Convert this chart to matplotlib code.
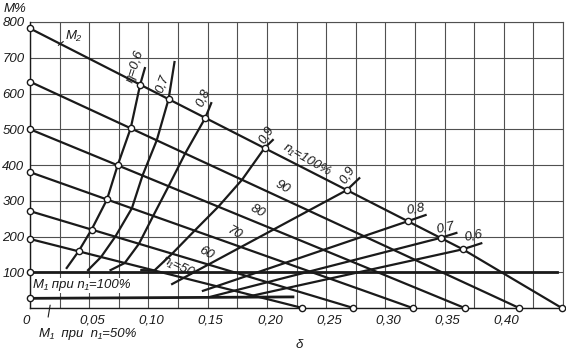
import matplotlib
matplotlib.use("Agg")
import matplotlib.pyplot as plt
import matplotlib.transforms as mtransforms
import numpy as np

# ---------------- data ----------------
n1_levels = [50, 60, 70, 80, 90, 100]
# each M2 line as polyline (delta, M)
m2_delta = [
    [0.0, 0.230],
    [0.0, 0.273],
    [0.0, 0.323],
    [0.0, 0.367],
    [0.0, 0.413],
    [0.0, 0.365, 0.449],
]
m2_M = [
    [193, 0],
    [271, 0],
    [380, 0],
    [500, 0],
    [633, 0],
    [782, 165, 0],
]

# upper efficiency curves: delta where each curve crosses the n1 = 50..100 lines
eta_upper = [0.6, 0.7, 0.8, 0.9]
eta_upper_delta = [
    [0.041, 0.052, 0.065, 0.074, 0.085, 0.093],
    [0.060, 0.072, 0.086, 0.095, 0.107, 0.117],
    [0.080, 0.092, 0.104, 0.117, 0.131, 0.148],
    [0.105, 0.120, 0.139, 0.159, 0.179, 0.198],
]
eta_upper_bottom = [(0.031, 112), (0.049, 106), (0.068, 106), (0.094, 106)]
eta_upper_top = [(0.097, 671), (0.122, 688), (0.153, 573), (0.205, 470)]

# lower-right efficiency lines: start point, delta of circle on n1=100 % line, end point
eta_right = [0.9, 0.8, 0.7, 0.6]
eta_right_start = [(0.120, 67), (0.146, 48), (0.152, 31), (0.183, 31)]
eta_right_circle = [0.2675, 0.319, 0.3466, 0.3654]
eta_right_end = [(0.278, 363), (0.334, 260), (0.360, 210), (0.381, 181)]

m1_full = ([0.0, 0.445], [100, 100])
m1_half = ([0.0, 0.222], [27, 31])

x_ticks = np.arange(0, 0.4501, 0.025)
x_labels = ["0", "", "0,05", "", "0,10", "", "0,15", "", "0,20", "", "0,25", "",
            "0,30", "", "0,35", "", "0,40", "", ""]
y_ticks = [0, 100, 200, 300, 400, 500, 600, 700, 800]
y_labels = ["", "100", "200", "300", "400", "500", "600", "700", "800"]

# ---------------- plot ----------------
W, H = 566, 354
fig = plt.figure(figsize=(W / 100, H / 100), dpi=100)
ax = fig.add_axes([30 / W, 1 - 308 / H, (563 - 30) / W, (308 - 22) / H])
ax.set_xlim(0, 0.45)
ax.set_ylim(0, 800)

FONT = dict(family=["Liberation Sans", "DejaVu Sans"], style="italic")
ink = "#1a1a1a"
FS = 9.5

ax.set_xticks(x_ticks)
ax.set_xticklabels(x_labels[:len(x_ticks)], fontsize=FS, **FONT)
ax.set_yticks(y_ticks)
ax.set_yticklabels(y_labels, fontsize=FS, **FONT)
ax.tick_params(axis="y", length=0, pad=4, colors=ink)
ax.tick_params(axis="x", length=0, pad=5, colors=ink)
shift = mtransforms.ScaledTranslation(3 / 100, 0, fig.dpi_scale_trans)
for i, lbl in enumerate(ax.get_xticklabels()):
    if i > 0:
        lbl.set_transform(lbl.get_transform() + shift)
    else:
        lbl.set_transform(lbl.get_transform() + mtransforms.ScaledTranslation(-4 / 100, 0, fig.dpi_scale_trans))
ax.grid(True, color="#505050", lw=0.8)
for s in ["top", "right"]:
    ax.spines[s].set_visible(False)
for s in ["left", "bottom"]:
    ax.spines[s].set_color(ink)
    ax.spines[s].set_linewidth(1.0)
ax.axhline(800, color="#505050", lw=0.8, clip_on=False)
ax.axvline(0.45, color="#505050", lw=0.8, clip_on=False)

lw = 1.6
circ = dict(ms=4.5, mfc="white", mec=ink, mew=1, zorder=5)


def m2_at(i, d):
    return float(np.interp(d, m2_delta[i], m2_M[i]))


for i in range(len(n1_levels)):
    ax.plot(m2_delta[i], m2_M[i], color=ink, lw=lw, zorder=3)
    ax.plot([m2_delta[i][0], m2_delta[i][-1]], [m2_M[i][0], m2_M[i][-1]], "o",
            clip_on=False, **circ)

# M1 lines
ax.plot(*m1_full, color=ink, lw=lw + 0.4, zorder=3)
ax.plot(*m1_half, color=ink, lw=lw + 0.4, zorder=3)
ax.plot([m1_full[0][0], m1_half[0][0]], [m1_full[1][0], m1_half[1][0]], "o",
        clip_on=False, **circ)

# upper efficiency curves
for k, eta in enumerate(eta_upper):
    ds = eta_upper_delta[k]
    ms = [m2_at(i, d) for i, d in enumerate(ds)]
    xs = [eta_upper_bottom[k][0]] + ds + [eta_upper_top[k][0]]
    ys = [eta_upper_bottom[k][1]] + ms + [eta_upper_top[k][1]]
    ax.plot(xs, ys, color=ink, lw=lw, zorder=3)
    if k == 0:
        ax.plot(ds, ms, "o", **circ)
    else:
        ax.plot(ds[-1], ms[-1], "o", **circ)

# right efficiency lines
for k, eta in enumerate(eta_right):
    cd = eta_right_circle[k]
    cm = m2_at(5, cd)
    xs = [eta_right_start[k][0], cd, eta_right_end[k][0]]
    ys = [eta_right_start[k][1], cm, eta_right_end[k][1]]
    ax.plot(xs, ys, color=ink, lw=lw, zorder=3)
    ax.plot(cd, cm, "o", **circ)

tfont = dict(fontsize=FS, color=ink, **FONT)
# upper curve labels
ax.text(0.0886, 677, "η=0,6", rotation=72, ha="center", va="center", **tfont)
ax.text(0.112, 627, "0,7", rotation=70, ha="center", va="center", **tfont)
ax.text(0.146, 587, "0,8", rotation=65, ha="center", va="center", **tfont)
ax.text(0.200, 484, "0,9", rotation=58, ha="center", va="center", **tfont)
# right line labels
ax.text(0.268, 372, "0,9", rotation=58, ha="center", va="center", **tfont)
ax.text(0.326, 277, "0,8", rotation=10, ha="center", va="center", **tfont)
ax.text(0.351, 224, "0,7", rotation=12, ha="center", va="center", **tfont)
ax.text(0.374, 201, "0,6", rotation=12, ha="center", va="center", **tfont)
# n1 labels
ax.text(0.234, 414, "n₁=100%", rotation=-30, ha="center", va="center", **tfont)
ax.text(0.213, 338, "90", rotation=-30, ha="center", va="center", **tfont)
ax.text(0.192, 271, "80", rotation=-30, ha="center", va="center", **tfont)
ax.text(0.173, 210, "70", rotation=-30, ha="center", va="center", **tfont)
ax.text(0.1485, 154, "60", rotation=-30, ha="center", va="center", **tfont)
ax.text(0.125, 117, "n₁=50", rotation=-25, ha="center", va="center", **tfont)
# M2 label with leader
ax.text(0.037, 762, "M₂", ha="center", va="center", **tfont)
ax.plot([0.028, 0.024], [745, 735], color=ink, lw=0.8)
# M1 labels
ax.text(0.0025, 64, "M₁ при n₁=100%", ha="left", va="center", zorder=4,
        bbox=dict(facecolor="white", edgecolor="none", pad=1.0), **tfont)
ax.annotate("M₁  при  n₁=50%", xy=(0.017, 8), xytext=(0.008, -73),
            textcoords="data", ha="left", va="center", annotation_clip=False,
            arrowprops=dict(arrowstyle="-", color=ink, lw=0.8, shrinkA=6, shrinkB=0,
                            relpos=(0.07, 1.0)), **tfont)
# axis titles
fig.text(4 / W, 1 - 9 / H, "M%", ha="left", va="center", fontsize=FS, color=ink, **FONT)
fig.text(299 / W, 1 - 345 / H, "δ", ha="center", va="center", fontsize=FS, color=ink, **FONT)

fig.savefig("out.png", dpi=100)
